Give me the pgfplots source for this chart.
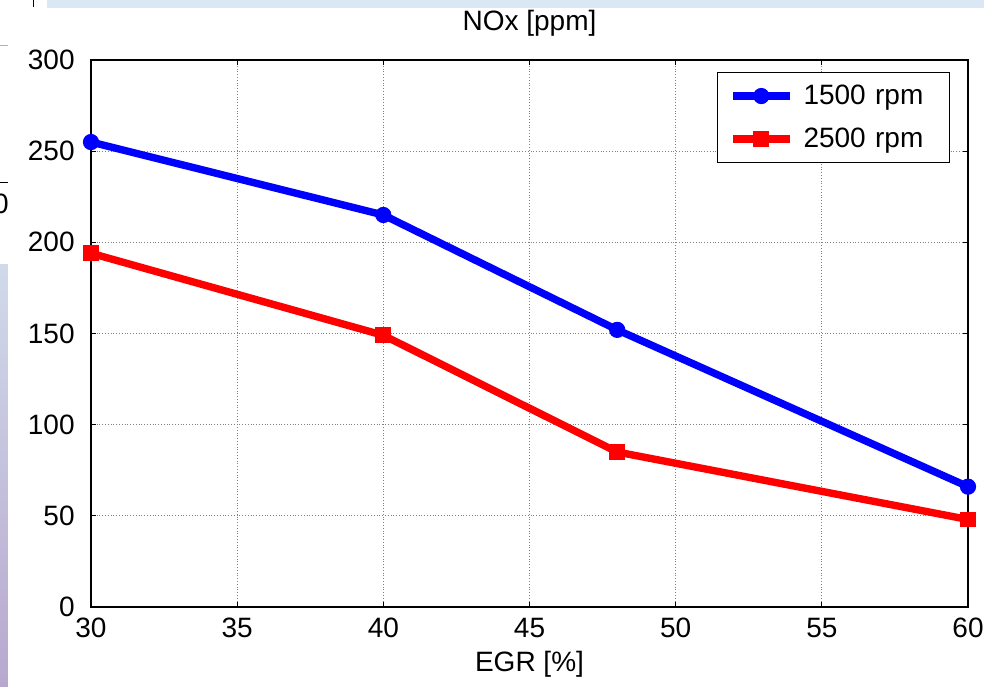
\documentclass[border=0pt]{standalone}
\usepackage{fontspec}
\setmainfont{Liberation Sans}
\usepackage{pgfplots}
\pgfplotsset{compat=1.18}
\definecolor{topband}{RGB}{218,232,245}
\definecolor{bandtop}{RGB}{208,218,234}
\definecolor{bandbot}{RGB}{184,168,206}

\begin{document}
\begin{tikzpicture}
% picture frame: 1px = 0.5pt, origin at the axis' lower-left corner
\useasboundingbox (-45.5pt,-39.5pt) rectangle (446.5pt,303.5pt);
% screenshot leftovers around the plot
\fill[topband] (-22pt,299.5pt) rectangle (446.5pt,303.5pt);
\shade[top color=bandtop, bottom color=bandbot] (-45.5pt,-39.5pt) rectangle (-41.5pt,171pt);
\draw[black, line width=0.5pt] (-28.5pt,300pt) -- (-28.5pt,303.5pt);
\draw[black, line width=0.5pt] (-45.5pt,212pt) -- (-41.5pt,212pt);
\draw[black!30, line width=0.5pt] (-45.5pt,280.5pt) -- (-41.5pt,280.5pt);
\begin{scope}
\clip (-45.5pt,190pt) rectangle (-41.5pt,215pt);
\node[anchor=east, inner sep=0pt, font=\fontsize{14}{16}\selectfont] at (-41pt,201.5pt) {0};
\end{scope}

\begin{axis}[
  scale only axis, width=438.5pt, height=273.5pt,
  xmin=30, xmax=60, ymin=0, ymax=300,
  xtick={30,35,...,60}, ytick={0,50,...,300},
  xtick pos=both, ytick pos=both, tick align=inside,
  major tick length=2.5pt,
  tick style={black, line width=0.5pt},
  axis line style={black, line width=0.6pt},
  grid=major, grid style={densely dotted, black!50, line width=0.4pt},
  /pgf/number format/assume math mode=true,
  tick label style={font=\fontsize{14}{16}\selectfont},
  xticklabel style={anchor=base, yshift=-15pt},
  yticklabel style={anchor=east, inner sep=0pt, xshift=-8pt},
  title={NOx [ppm]},
  every axis title/.style={at={(0.5,1)}, anchor=base, yshift=14.5pt, font=\fontsize{14}{16}\selectfont},
  xlabel={EGR [\%]},
  xlabel style={font=\fontsize{14}{16}\selectfont},
  legend style={at={(0.9795,0.978)}, anchor=north east, draw=black, line width=0.5pt,
    inner xsep=6pt, inner ysep=1pt, font=\fontsize{14}{16}\selectfont,
    nodes={text width=62pt, align=left, minimum height=21.5pt, inner xsep=5pt, inner ysep=0pt}},
  legend cell align=left,
  legend image code/.code={\draw[mark repeat=2,mark phase=2,#1] plot coordinates {(0pt,0pt) (14.25pt,0pt) (28.5pt,0pt)};},
]
\addplot[color=blue, line width=3.7pt, mark=*, mark size=3.8pt, mark options={solid, line width=0.5pt}]
  coordinates {(30,255) (40,215) (48,152) (60,66)};
\addlegendentry{1500 rpm}
\addplot[color=red, line width=3.7pt, mark=square*, mark size=3.7pt, mark options={solid, line width=0.5pt}]
  coordinates {(30,194) (40,149) (48,85) (60,48)};
\addlegendentry{2500 rpm}
\end{axis}
\end{tikzpicture}
\end{document}
